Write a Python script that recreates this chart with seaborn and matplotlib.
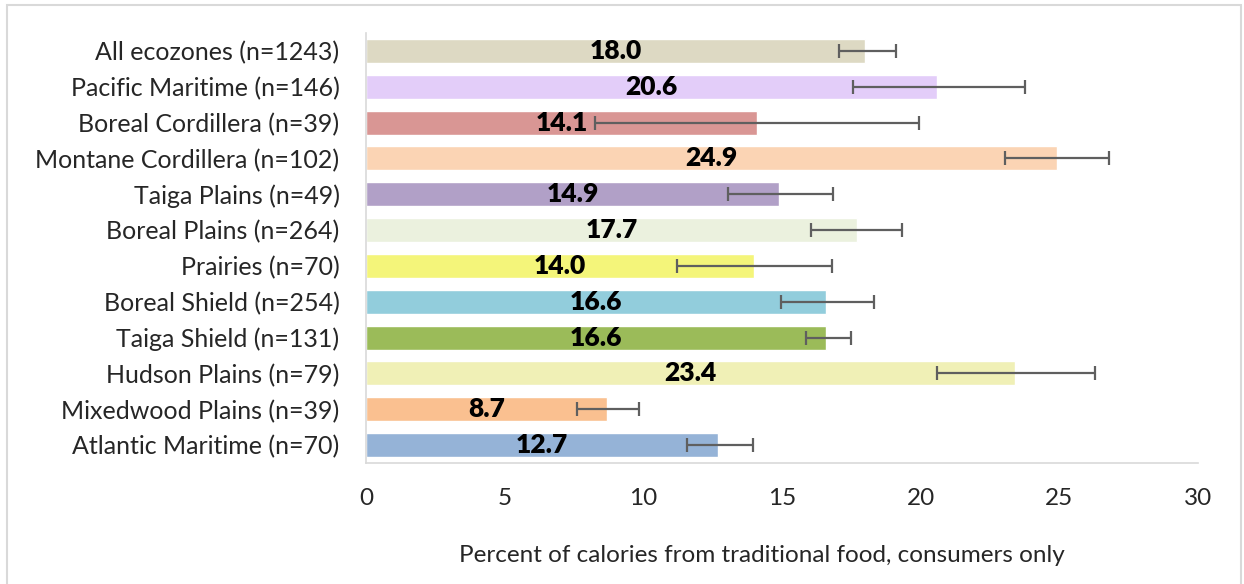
import matplotlib
matplotlib.use("Agg")
import matplotlib.pyplot as plt
import matplotlib.patches as patches
import seaborn as sns
import pandas as pd

# data
regions = [
    "All ecozones (n=1243)",
    "Pacific Maritime (n=146)",
    "Boreal Cordillera (n=39)",
    "Montane Cordillera (n=102)",
    "Taiga Plains (n=49)",
    "Boreal Plains (n=264)",
    "Prairies (n=70)",
    "Boreal Shield (n=254)",
    "Taiga Shield (n=131)",
    "Hudson Plains (n=79)",
    "Mixedwood Plains (n=39)",
    "Atlantic Maritime (n=70)",
]
percent = [18.0, 20.6, 14.1, 24.9, 14.9, 17.7, 14.0, 16.6, 16.6, 23.4, 8.7, 12.7]
ci_low = [17.05, 17.55, 8.27, 23.04, 13.04, 16.05, 11.23, 14.98, 15.87, 20.6, 7.61, 11.57]
ci_high = [19.12, 23.75, 19.93, 26.8, 16.83, 19.33, 16.79, 18.33, 17.49, 26.27, 9.84, 13.96]
colors = ["#DDD9C3", "#E3CDF9", "#D99694", "#FBD4B4", "#B1A0C7", "#EBF1DE",
          "#F4F57A", "#92CDDC", "#9BBB59", "#F0F0B6", "#FAC090", "#95B3D7"]
xticks = [0, 5, 10, 15, 20, 25, 30]

df = pd.DataFrame({"region": regions, "percent": percent})

sns.set_style("white")
plt.rcParams["font.family"] = ["Lato", "DejaVu Sans"]

fig = plt.figure(figsize=(12.44, 5.84), dpi=100)
ax = fig.add_axes([0.2942, 0.2072, 0.6688, 0.7363])

sns.barplot(data=df, x="percent", y="region", hue="region", palette=colors,
            legend=False, width=0.67, ax=ax, saturation=1)

ypos = ax.get_yticks()
xerr = [[p - lo for p, lo in zip(percent, ci_low)], [hi - p for p, hi in zip(percent, ci_high)]]
ax.errorbar(percent, ypos, xerr=xerr, fmt="none", ecolor="#5F5F5F",
            elinewidth=1.6, capsize=5, capthick=1.6, zorder=5)

# value labels in the middle of each bar
for y, v in zip(ypos, percent):
    ax.text(v / 2, y, f"{v:.1f}", ha="center", va="center",
            fontsize=19, fontweight="heavy", color="black", zorder=6)

ax.set_xlim(0, 30)
ax.set_ylim(11.5, -0.5)
ax.set_xticks(xticks)
ax.set_xticklabels([str(t) for t in xticks])
ax.tick_params(axis="x", length=0, pad=18, labelsize=17.5)
ax.tick_params(axis="y", length=0, pad=19, labelsize=18)
ax.set_ylabel("")
ax.set_xlabel("Percent of calories from traditional food, consumers only", fontsize=17.5)
ax.xaxis.set_label_coords(0.476, -0.215)
ax.xaxis.label.set_va("center")

for side in ["top", "right"]:
    ax.spines[side].set_visible(False)
for side in ["left", "bottom"]:
    ax.spines[side].set_color("#D9D9D9")
    ax.spines[side].set_linewidth(1.2)

# outer chart border
fig.patches.append(patches.Rectangle((7 / 1244, -0.02), (1240.5 - 7) / 1244, 1.02 - 5 / 584,
                                     transform=fig.transFigure, fill=False,
                                     edgecolor="#D9D9D9", linewidth=1.5))

fig.savefig("out.png", dpi=100)
